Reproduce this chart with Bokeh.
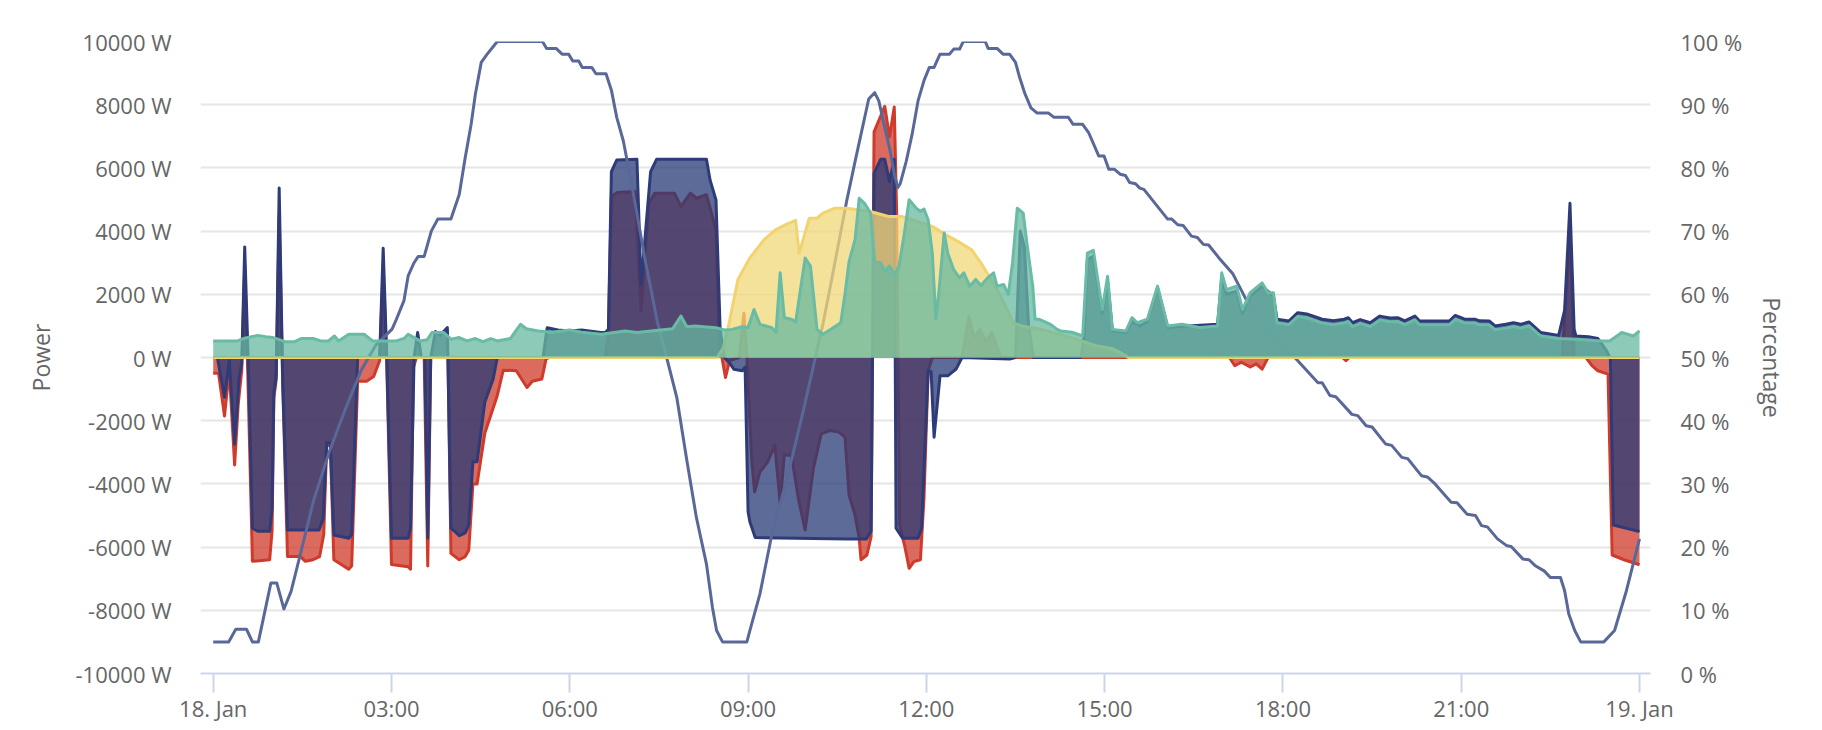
from bokeh.plotting import figure
from bokeh.models import Range1d, LinearAxis, FixedTicker
from bokeh.embed import file_html
from bokeh.resources import INLINE

# ---------------- data (hours since 18. Jan 00:00) ----------------
HOUR_TICKS = [0, 3, 6, 9, 12, 15, 18, 21, 24]
HOUR_LABELS = ["18. Jan", "03:00", "06:00", "09:00", "12:00", "15:00", "18:00", "21:00", "19. Jan"]
POWER_TICKS = list(range(-10000, 10001, 2000))
PCT_TICKS = list(range(0, 101, 10))

# grid power (red)
grid_t = [0.0, 0.09, 0.19, 0.27, 0.36, 0.42, 0.48, 0.53, 0.58, 0.66, 0.95, 0.99, 1.02, 1.06, 1.11, 1.17,
          1.25, 1.47, 1.55, 1.68, 1.79, 1.86, 1.91, 1.97, 2.03, 2.28, 2.33, 2.43, 2.58, 2.7, 2.8, 2.86,
          2.92, 3.0, 3.28, 3.32, 3.37, 3.42, 3.55, 3.61, 3.66, 3.95, 4.0, 4.14, 4.24, 4.3, 4.37, 4.44,
          4.57, 4.78, 4.88, 5.1, 5.28, 5.37, 5.53, 5.6, 5.65, 6.6, 6.65, 6.7, 6.8, 7.1, 7.2, 7.33, 7.43,
          7.76, 7.87, 8.03, 8.13, 8.3, 8.46, 8.52, 8.56, 8.62, 8.69, 8.85, 8.93, 8.98, 9.06, 9.11, 9.2,
          9.33, 9.45, 9.54, 9.61, 9.73, 9.85, 9.96, 10.1, 10.23, 10.37, 10.53, 10.63, 10.7, 10.8, 10.87,
          10.9, 11.0, 11.07, 11.12, 11.3, 11.38, 11.46, 11.5, 11.55, 11.64, 11.71, 11.79, 11.9, 11.96,
          12.03, 12.1, 12.6, 12.72, 12.8, 12.9, 13.0, 13.1, 13.25, 17.1, 17.19, 17.3, 17.45, 17.55,
          17.65, 17.75, 19.0, 19.06, 19.12, 22.7, 22.83, 22.9, 23.1, 23.2, 23.3, 23.47, 23.54, 23.74, 24.0]
grid_w = [-500, -500, -1850, -400, -3400, -1500, -400, 2900, -400, -6450, -6400, -5500, -1300, -700, 4500, -900,
          -6300, -6300, -6450, -6400, -6300, -5600, -2700, -2800, -6400, -6700, -6600, -750, -750, -600, -100, 2900,
          -200, -6550, -6620, -6700, -300, 0, 0, -6600, 0, 0, -6200, -6400, -6300, -6100, -4000, -4000,
          -2400, -1200, -400, -420, -950, -750, -680, -50, 0, 0, 800, 5090, 5220, 5250, 1470, 4880, 5200,
          5200, 4780, 5200, 5040, 5150, 4040, 300, 0, -630, -100, 0, 1400, 0, -3200, -4250, -3620,
          -3300, -2780, -4620, -3080, -3100, -4500, -5460, -3500, -2415, -2310, -2360, -2520, -4360, -4990, -5720,
          -6400, -6250, -5670, 7140, 7950, 6980, 7930, 4570, -5300, -6000, -6670, -6460, -6400, -4460,
          -420, 0, 0, 1300, 600, 900, 500, 800, 0, 0, -260, -150, -300, -200,
          -370, 0, 0, -100, 0, 0, 4150, 0, 0, -260, -420, -525, -6250, -6400, -6560]

# battery power (navy)
batt_t = [0.0, 0.07, 0.19, 0.27, 0.36, 0.44, 0.48, 0.53, 0.59, 0.66, 0.75, 0.95, 0.99, 1.02, 1.06, 1.11, 1.17,
          1.25, 1.78, 1.85, 1.91, 1.97, 2.03, 2.28, 2.33, 2.43, 2.8, 2.86, 2.92, 3.0, 3.28, 3.32, 3.38,
          3.44, 3.5, 3.56, 3.61, 3.66, 3.74, 3.82, 3.94, 4.0, 4.07, 4.14, 4.24, 4.3, 4.37, 4.44, 4.57,
          4.71, 4.78, 5.55, 5.62, 5.8, 6.0, 6.2, 6.52, 6.6, 6.65, 6.7, 6.79, 7.13, 7.2, 7.36, 7.46, 8.3,
          8.36, 8.46, 8.53, 8.6, 8.7, 8.76, 8.9, 8.95, 9.0, 9.03, 9.12, 10.67, 10.99, 11.07, 11.12, 11.23,
          11.3, 11.38, 11.46, 11.49, 11.6, 11.86, 11.92, 12.03, 12.08, 12.13, 12.23, 12.36, 12.5, 12.6,
          13.4, 13.5, 13.58, 13.65, 13.72, 13.8, 14.6, 14.65, 14.71, 14.81, 14.96, 15.05, 15.13, 15.36,
          15.46, 15.6, 15.72, 15.89, 16.06, 16.4, 16.9, 16.97, 17.05, 17.22, 17.32, 17.45, 17.65, 17.84,
          17.9, 18.1, 18.25, 18.4, 18.66, 18.85, 19.03, 19.1, 19.17, 19.3, 19.47, 19.63, 19.8, 19.93,
          20.05, 20.22, 20.3, 20.8, 20.9, 21.05, 21.24, 21.3, 21.47, 21.57, 21.75, 21.88, 22.0, 22.14,
          22.28, 22.34, 22.64, 22.74, 22.83, 22.9, 22.93, 23.14, 23.3, 23.45, 23.51, 23.56, 24.0]
batt_w = [0, 0, -1260, -100, -2740, -600, -200, 3500, -200, -5400, -5500, -5500, -4800, -1100, -600, 5360, -800,
          -5460, -5460, -5100, -2700, -2700, -5620, -5720, -5600, 0, 0, 3460, 0, -5720, -5720, -5400, 0,
          790, 0, 0, -5720, 0, 820, 700, 945, -5400, -5510, -5640, -5550, -5300, -3300, -3300, -1420,
          -680, 0, 0, 945, 870, 840, 870, 790, 800, 890, 5880, 6250, 6270, 2310, 5880, 6270, 6270,
          5620, 4990, 890, 0, -200, -370, -420, -300, -4880, -5200, -5700, -5740, -5740, -5500, 5830, 6270,
          6270, 5565, 6270, -5400, -5720, -5720, -5400, -420, -450, -2520, -580, -580, -370, 0,
          -50, 0, 4000, 3500, 1000, 0, 0, 600, 3100, 3200, 1400, 2400, 850, 800,
          1150, 1000, 1150, 2200, 950, 1000, 1050, 2500, 2000, 2100, 1400, 1950, 2250, 1950,
          1210, 1155, 1420, 1380, 1210, 1160, 1210, 1260, 1100, 1200, 1100, 1310, 1250, 1260,
          1160, 1310, 1155, 1155, 1330, 1220, 1210, 1160, 1155, 1000, 1050, 1100, 1050, 1125,
          890, 790, 700, 1500, 4880, 900, 680, 660, 600, 200, -50, -5300, -5510]

# PV power (yellow)
pv_t = [0.0, 8.48, 8.58, 8.66, 8.83, 9.03, 9.27, 9.46, 9.66, 9.8, 9.86, 10.03, 10.16, 10.26, 10.46, 10.66,
        11.06, 11.36, 11.6, 11.86, 12.1, 12.33, 12.53, 12.76, 12.92, 13.19, 13.33, 13.46, 13.6, 13.9,
        14.2, 14.53, 14.86, 15.13, 15.26, 15.4, 24.0]
pv_w = [0, 0, 300, 890, 2470, 3150, 3730, 4040, 4230, 4340, 3300, 4410, 4410, 4570, 4725, 4725,
        4620, 4460, 4460, 4300, 4150, 3880, 3675, 3410, 2990, 2150, 1630, 1100, 1000, 900,
        750, 580, 370, 280, 160, 0, 0]

# consumption (green)
load_t = [0.0, 0.41, 0.51, 0.75, 0.88, 1.01, 1.21, 1.37, 1.48, 1.68, 1.81, 1.94, 2.04, 2.11, 2.28, 2.54,
          2.68, 3.08, 3.21, 3.28, 3.38, 3.48, 3.6, 3.68, 3.88, 4.0, 4.14, 4.27, 4.41, 4.54, 4.67, 4.78,
          5.0, 5.17, 5.27, 5.47, 5.7, 6.0, 6.2, 6.53, 6.93, 7.13, 7.73, 7.87, 7.97, 8.1, 8.46, 8.6,
          8.73, 8.9, 9.0, 9.1, 9.2, 9.4, 9.47, 9.54, 9.61, 9.73, 9.8, 9.96, 10.05, 10.16, 10.26, 10.4,
          10.56, 10.63, 10.7, 10.8, 10.87, 10.96, 11.06, 11.13, 11.23, 11.31, 11.38, 11.47, 11.54, 11.63,
          11.71, 11.83, 11.9, 11.96, 12.03, 12.1, 12.16, 12.21, 12.3, 12.36, 12.46, 12.56, 12.63, 12.73,
          12.83, 12.92, 13.03, 13.13, 13.19, 13.3, 13.38, 13.45, 13.53, 13.63, 13.7, 13.79, 13.83, 13.9,
          14.09, 14.2, 14.26, 14.45, 14.63, 14.71, 14.81, 14.96, 15.05, 15.13, 15.36, 15.46, 15.55, 15.72,
          15.89, 16.06, 16.3, 16.6, 16.9, 16.97, 17.05, 17.22, 17.32, 17.45, 17.65, 17.75, 17.84, 17.9,
          18.1, 18.25, 18.4, 18.66, 18.85, 19.03, 19.1, 19.17, 19.3, 19.47, 19.63, 19.8, 19.93, 20.05,
          20.22, 20.3, 20.8, 20.9, 21.05, 21.24, 21.3, 21.47, 21.57, 21.75, 21.88, 22.0, 22.14, 22.28,
          22.34, 22.64, 22.93, 23.36, 23.5, 23.7, 23.9, 24.0]
load_w = [525, 525, 600, 700, 660, 630, 500, 500, 600, 600, 525, 525, 680, 525, 735, 735,
          525, 525, 600, 735, 630, 525, 560, 790, 790, 580, 630, 525, 600, 500, 600, 525,
          600, 1050, 910, 840, 800, 870, 800, 735, 840, 790, 910, 1310, 975, 1000, 945, 870,
          890, 975, 950, 1520, 1050, 945, 790, 2680, 1260, 1210, 1120, 3150, 2890, 890, 735, 900,
          1100, 2000, 3045, 3730, 5040, 4880, 4570, 3045, 2990, 2730, 2900, 2625, 2890, 3940,
          4990, 4725, 4620, 4700, 4360, 3300, 1210, 2050, 3940, 3300, 2780, 2520, 2680, 2260,
          2470, 2280, 2520, 2680, 2260, 2310, 2000, 3000, 4725, 4570, 3500, 2260, 1210, 1210,
          1050, 890, 840, 800, 680, 3300, 3390, 1520, 2570, 890, 840, 1260, 1100, 1210,
          2260, 1000, 1050, 950, 1000, 2680, 2150, 2260, 1520, 2050, 2360, 2050, 2050, 1100,
          1040, 1300, 1260, 1090, 1040, 1090, 1140, 980, 1080, 980, 1190, 1130, 1140, 1040,
          1190, 1035, 1035, 1210, 1100, 1090, 1040, 1035, 880, 930, 980, 930, 1005, 770,
          680, 600, 580, 525, 525, 790, 680, 840]

# battery state of charge (%)
soc_t = [0.0, 0.26, 0.38, 0.56, 0.66, 0.76, 0.97, 1.07, 1.19, 1.31, 1.47, 1.69, 1.95, 2.23, 2.49, 2.74,
         3.01, 3.08, 3.21, 3.28, 3.38, 3.45, 3.55, 3.67, 3.78, 4.0, 4.14, 4.24, 4.34, 4.41, 4.51, 4.61,
         4.78, 5.54, 5.61, 5.77, 5.87, 5.98, 6.05, 6.15, 6.21, 6.37, 6.44, 6.61, 6.70, 6.79, 6.90, 7.03,
         7.17, 7.27, 7.37, 7.47, 7.63, 7.80, 7.97, 8.13, 8.30, 8.40, 8.47, 8.57, 8.98, 9.03, 9.2, 9.4,
         9.66, 9.93, 10.12, 10.26, 10.4, 10.66, 10.8, 10.9, 11.03, 11.13, 11.2, 11.3, 11.39, 11.46, 11.52,
         11.56, 11.66, 11.76, 11.86, 11.96, 12.05, 12.13, 12.23, 12.39, 12.46, 12.56, 12.62, 12.99, 13.04,
         13.19, 13.29, 13.4, 13.5, 13.57, 13.66, 13.76, 13.86, 14.05, 14.15, 14.39, 14.47, 14.63, 14.73,
         14.9, 14.99, 15.07, 15.16, 15.26, 15.35, 15.42, 15.52, 15.59, 15.66, 16.06, 16.13, 16.23, 16.32,
         16.46, 16.56, 16.66, 16.75, 16.92, 17.16, 17.39, 17.76, 18.25, 18.59, 18.66, 18.79, 18.89, 19.16,
         19.26, 19.40, 19.5, 19.73, 19.83, 20.0, 20.1, 20.33, 20.43, 20.56, 20.83, 20.93, 21.1, 21.24,
         21.34, 21.44, 21.61, 21.77, 21.84, 22.04, 22.14, 22.24, 22.4, 22.5, 22.67, 22.74, 22.81, 22.91,
         23.01, 23.4, 23.58, 23.78, 24.0]
soc_p = [5, 5, 7, 7, 5, 5, 14.3, 14.3, 10.2, 13, 19, 27.4, 35, 42, 48, 52,
         54.5, 56, 59, 62.9, 65, 66, 66, 70, 71.9, 71.9, 75.8, 81.6, 86.9, 91.6, 96.7, 98,
         100, 100, 98.9, 98.9, 98, 98, 96.9, 96.9, 95.9, 95.9, 94.9, 94.9, 92.3, 88, 84.3, 78,
         70.6, 65.3, 60.6, 55.8, 50, 43.7, 33.7, 24.7, 17.3, 10.5, 6.8, 5, 5, 6.8, 12.6, 22,
         31, 41.6, 49.5, 55.3, 62, 74.8, 81, 85.3, 90.9, 91.9, 90.6, 86.4, 82.7, 79, 76.9,
         77.5, 81, 85.3, 90.6, 93.8, 95.9, 95.9, 98, 98, 98.8, 98.8, 100, 100, 98.9,
         98.9, 98, 98, 96.7, 94.3, 91.7, 89.5, 88.7, 88.7, 88, 88, 86.9, 86.9, 85.6,
         81.9, 81.9, 79.8, 79.8, 79, 78.8, 77.7, 77.5, 76.8, 76.6, 71.9, 71.9, 71, 70.9,
         69.2, 69, 67.9, 67.8, 65.8, 63.2, 59, 54.2, 49.5, 46, 46, 44, 43.8, 41,
         40.8, 39.2, 39, 36.3, 36.1, 34.2, 34, 31.3, 31.1, 30, 27.1, 27, 25.2, 25,
         23.4, 23.2, 21.3, 20.2, 20.1, 18.1, 18, 17.1, 16.2, 15.2, 15.2, 13.1, 9.4, 6.8,
         5, 5, 6.8, 13.1, 21.3]

# ---------------- styles ----------------
RED = "#d03a2a"
NAVY = "#263a76"
NAVY_LINE = "#2e3b78"
YELLOW = "#f2d878"
YELLOW_LINE = "#f2d36e"
GREEN = "#67b8a0"
GREEN_LINE = "#69bba5"
SOC_COLOR = "#5a6899"
TEXT = "#666666"
FONT = "Open Sans"

p = figure(width=1822, height=730, output_backend="svg", toolbar_location=None,
           x_range=Range1d(-0.214, 24.185), y_range=Range1d(-10000, 10000),
           min_border_left=200, min_border_right=172, min_border_top=41, min_border_bottom=57)
p.outline_line_color = None
p.background_fill_color = "white"
p.border_fill_color = "white"

p.extra_y_ranges = {"pct": Range1d(0, 100)}

# x axis
xa = p.xaxis[0]
xa.ticker = FixedTicker(ticks=HOUR_TICKS)
xa.major_label_overrides = {t: l for t, l in zip(HOUR_TICKS, HOUR_LABELS)}
xa.axis_line_color = "#ccd6eb"
xa.axis_line_width = 2
xa.major_tick_line_color = "#ccd6eb"
xa.major_tick_line_width = 2
xa.major_tick_out = 19
xa.major_tick_in = 0
xa.minor_tick_line_color = None
xa.major_label_standoff = 0
xa.major_label_text_font = FONT
xa.major_label_text_font_size = "22px"
xa.major_label_text_color = TEXT

# left axis
ya = p.yaxis[0]
ya.ticker = FixedTicker(ticks=POWER_TICKS)
ya.major_label_overrides = {v: f"{v} W" for v in POWER_TICKS}
ya.axis_line_color = None
ya.major_tick_line_color = None
ya.minor_tick_line_color = None
ya.major_tick_out = 0
ya.major_tick_in = 0
ya.major_label_standoff = 29
ya.major_label_text_font = FONT
ya.major_label_text_font_size = "22px"
ya.major_label_text_color = TEXT
ya.axis_label = "Power"
ya.axis_label_text_font = FONT
ya.axis_label_text_font_size = "23px"
ya.axis_label_text_font_style = "normal"
ya.axis_label_text_color = TEXT
ya.axis_label_standoff = 15

# right axis
ra = LinearAxis(y_range_name="pct", ticker=FixedTicker(ticks=PCT_TICKS), axis_label="Percentage")
ra.major_label_overrides = {v: f"{v} %" for v in PCT_TICKS}
ra.axis_line_color = None
ra.major_tick_line_color = None
ra.minor_tick_line_color = None
ra.major_tick_out = 0
ra.major_tick_in = 0
ra.major_label_standoff = 30
ra.major_label_text_font = FONT
ra.major_label_text_font_size = "22px"
ra.major_label_text_color = TEXT
ra.axis_label_text_font = FONT
ra.axis_label_text_font_size = "23px"
ra.axis_label_text_font_style = "normal"
ra.axis_label_text_color = TEXT
ra.axis_label_standoff = 11
p.add_layout(ra, "right")

p.xgrid.visible = False
p.ygrid.ticker = FixedTicker(ticks=POWER_TICKS)
p.ygrid.grid_line_color = "#e6e6e6"
p.ygrid.grid_line_width = 2

# series
p.varea(x=grid_t, y1=0, y2=grid_w, fill_color=RED, fill_alpha=0.75)
p.line(grid_t, grid_w, line_color=RED, line_width=3, line_join="round")

p.varea(x=batt_t, y1=0, y2=batt_w, fill_color=NAVY, fill_alpha=0.75)
p.line(batt_t, batt_w, line_color=NAVY_LINE, line_width=3, line_join="round")

p.line(soc_t, soc_p, y_range_name="pct", line_color=SOC_COLOR, line_width=3, line_join="round")

p.varea(x=pv_t, y1=0, y2=pv_w, fill_color=YELLOW, fill_alpha=0.75)
p.line(pv_t, pv_w, line_color=YELLOW_LINE, line_width=3, line_join="round")

p.varea(x=load_t, y1=0, y2=load_w, fill_color=GREEN, fill_alpha=0.75)
p.line(load_t, load_w, line_color=GREEN_LINE, line_width=3, line_join="round")

open("out.html", "w").write(file_html(p, INLINE))
